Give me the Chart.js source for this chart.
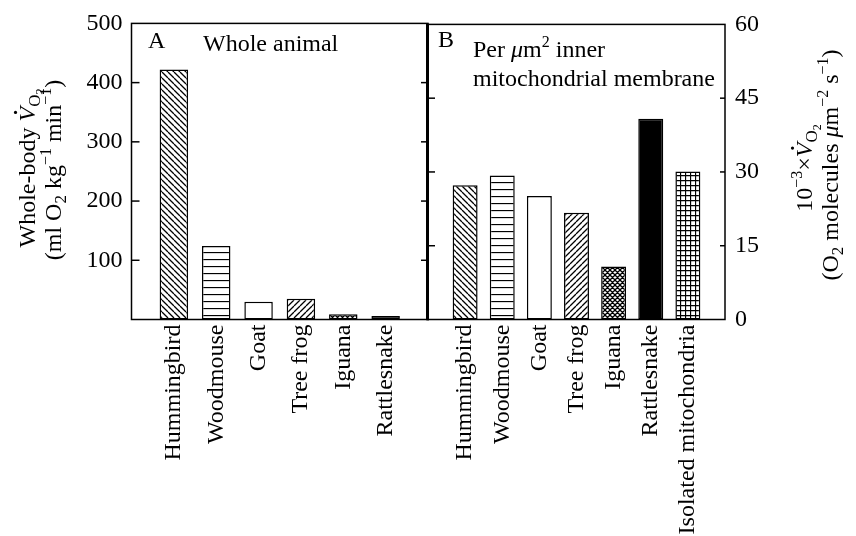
<!DOCTYPE html>
<html>
<head>
<meta charset="utf-8">
<script src="https://cdn.jsdelivr.net/npm/chart.js@4.4.0/dist/chart.umd.min.js"></script>
<style>
  body { margin: 0; background: #fff; }
  canvas { position: absolute; left: 0; top: 0; }
</style>
</head>
<body>
<canvas id="chartA" width="856" height="536"></canvas>
<canvas id="chartB" width="856" height="536"></canvas>
<script>
// values
var animalsA = ['Hummingbird', 'Woodmouse', 'Goat', 'Tree frog', 'Iguana', 'Rattlesnake'];
var wholeBodyVO2 = [422, 124, 30, 35, 9, 6];            // ml O2 kg-1 min-1
var animalsB = ['Hummingbird', 'Woodmouse', 'Goat', 'Tree frog', 'Iguana', 'Rattlesnake', 'Isolated mitochondria'];
var membraneVO2 = [27.3, 29.3, 25.1, 21.7, 10.8, 40.8, 30.1]; // 10^-3 O2 molecules um-2 s-1
var ticksA = [100, 200, 300, 400, 500];
var ticksB = [0, 15, 30, 45, 60];

var SERIF = "'Liberation Serif', 'Times New Roman', serif";

// fill pattern per animal
var hatchOf = {
    'Hummingbird': 'back',
    'Woodmouse': 'horiz',
    'Goat': 'none',
    'Tree frog': 'fwd',
    'Iguana': 'cross',
    'Rattlesnake': 'solid',
    'Isolated mitochondria': 'grid'
};

function hatch(kind) {
    if (kind === 'solid') return '#000';
    if (kind === 'none') return '#fff';
    var s = kind === 'horiz' ? 7 : (kind === 'cross' || kind === 'grid' ? 5 : 6);
    var c = document.createElement('canvas');
    c.width = s; c.height = s;
    var g = c.getContext('2d');
    g.fillStyle = '#fff';
    g.fillRect(0, 0, s, s);
    g.strokeStyle = '#000';
    g.lineWidth = 1.3;
    g.beginPath();
    var k;
    if (kind === 'back' || kind === 'cross') {
        for (k = -s; k <= s; k += s) { g.moveTo(k, 0); g.lineTo(k + s, s); }
    }
    if (kind === 'fwd' || kind === 'cross') {
        for (k = -s; k <= s; k += s) { g.moveTo(k, s); g.lineTo(k + s, 0); }
    }
    if (kind === 'horiz' || kind === 'grid') { g.moveTo(0, 0.5); g.lineTo(s, 0.5); }
    if (kind === 'grid') { g.moveTo(0.5, 0); g.lineTo(0.5, s); }
    g.stroke();
    return g.createPattern(c, 'repeat');
}

// rich text: superscripts, subscripts, italic V with dot
var SIZES = { n: [24, 0], sup: [16, -10], sub: [17, 5], sub2: [12, 9] };
function seg(t, k, it, dot) { return { t: t, k: k || 'n', it: !!it, dot: !!dot }; }

function setFont(ctx, s) {
    ctx.font = (s.it ? 'italic ' : '') + SIZES[s.k][0] + 'px ' + SERIF;
}

function drawRich(ctx, segs, x, y, rot, center) {
    ctx.save();
    ctx.translate(x, y);
    if (rot) ctx.rotate(rot);
    ctx.fillStyle = '#000';
    ctx.textBaseline = 'alphabetic';
    ctx.textAlign = 'left';
    var total = 0;
    segs.forEach(function (s) { setFont(ctx, s); total += ctx.measureText(s.t).width; });
    var cx = center ? -total / 2 : 0;
    segs.forEach(function (s) {
        setFont(ctx, s);
        var w = ctx.measureText(s.t).width;
        var dy = SIZES[s.k][1];
        ctx.fillText(s.t, cx, dy);
        if (s.dot) {
            ctx.beginPath();
            ctx.arc(cx + w * 0.62, dy - 19.5, 1.6, 0, Math.PI * 2);
            ctx.fill();
        }
        cx += w;
    });
    ctx.restore();
}

function line(ctx, x1, y1, x2, y2, w) {
    ctx.beginPath();
    ctx.lineWidth = w;
    ctx.moveTo(x1, y1);
    ctx.lineTo(x2, y2);
    ctx.stroke();
}

var panelA = {
    id: 'panelA',
    afterDraw: function (chart) {
        var ctx = chart.ctx, a = chart.chartArea, y = chart.scales.y;
        ctx.save();
        ctx.strokeStyle = '#000';
        ctx.lineWidth = 1.5;
        ctx.strokeRect(a.left, a.top, a.right - a.left, a.bottom - a.top);
        [100, 200, 300, 400].forEach(function (v) {
            var py = y.getPixelForValue(v);
            line(ctx, a.left, py, a.left + 8, py, 1.5);
            line(ctx, a.right, py, a.right - 7, py, 1.5);
        });
        drawRich(ctx, [seg('A')], 148, 48, 0, false);
        drawRich(ctx, [seg('Whole animal')], 203, 51, 0, false);
        drawRich(ctx, [seg('Whole-body '), seg('V', 'n', true, true), seg('O', 'sub'), seg('2', 'sub2')],
            35, 168, -Math.PI / 2, true);
        drawRich(ctx, [seg('(ml O'), seg('2', 'sub'), seg(' kg'), seg('\u22121', 'sup'), seg(' min'), seg('\u22121', 'sup'), seg(')')],
            61, 170, -Math.PI / 2, true);
        ctx.restore();
    }
};

var panelB = {
    id: 'panelB',
    afterDraw: function (chart) {
        var ctx = chart.ctx, a = chart.chartArea, y = chart.scales.y;
        ctx.save();
        ctx.strokeStyle = '#000';
        ctx.lineWidth = 1.5;
        ctx.strokeRect(a.left, a.top, a.right - a.left, a.bottom - a.top);
        line(ctx, a.left - 0.5, a.top - 0.75, a.left - 0.5, a.bottom + 0.75, 3);
        [15, 30, 45].forEach(function (v) {
            var py = y.getPixelForValue(v);
            line(ctx, a.left, py, a.left + 7, py, 1.5);
            line(ctx, a.right, py, a.right - 5, py, 1.5);
        });
        drawRich(ctx, [seg('B')], 438, 47, 0, false);
        drawRich(ctx, [seg('Per '), seg('\u03bc', 'n', true), seg('m'), seg('2', 'sup'), seg(' inner')], 473, 57, 0, false);
        drawRich(ctx, [seg('mitochondrial membrane')], 473, 86, 0, false);
        drawRich(ctx, [seg('10'), seg('\u22123', 'sup'), seg('\u00d7'), seg('V', 'n', true, true), seg('O', 'sub'), seg('2', 'sub2')],
            812, 168, -Math.PI / 2, true);
        drawRich(ctx, [seg('(O'), seg('2', 'sub'), seg(' molecules '), seg('\u03bc', 'n', true), seg('m'), seg('\u22122', 'sup'),
            seg(' s'), seg('\u22121', 'sup'), seg(')')],
            838, 165, -Math.PI / 2, true);
        ctx.restore();
    }
};

function xAxis(names, max) {
    return {
        type: 'linear',
        min: -1,
        max: max,
        offset: false,
        afterBuildTicks: function (s) { s.ticks = names.map(function (n, i) { return { value: i }; }); },
        afterFit: function (s) { s.height = 216.5; },
        grid: { display: false, drawTicks: false, offset: false },
        border: { display: false },
        ticks: {
            autoSkip: false,
            minRotation: 90,
            maxRotation: 90,
            padding: 5,
            color: '#000',
            font: { family: SERIF, size: 24 },
            callback: function (v) { return names[v]; }
        }
    };
}

function yAxis(pos, max, ticks, width, pad) {
    return {
        position: pos,
        min: 0,
        max: max,
        afterBuildTicks: function (s) { s.ticks = ticks.map(function (v) { return { value: v }; }); },
        afterFit: function (s) { s.width = width; },
        grid: { display: false, drawTicks: false },
        border: { display: false },
        ticks: {
            padding: pad,
            color: '#000',
            font: { family: SERIF, size: 24 },
            callback: function (v) { return String(v); }
        }
    };
}

function barData(names, values) {
    return {
        datasets: [{
            data: values.map(function (v, i) { return { x: i, y: v }; }),
            backgroundColor: names.map(function (n) { return hatch(hatchOf[n]); }),
            borderColor: '#000',
            borderWidth: 1.5,
            borderSkipped: false,
            barPercentage: 0.84,
            categoryPercentage: 0.8
        }]
    };
}

var common = {
    responsive: false,
    animation: false,
    devicePixelRatio: 1,
    plugins: { legend: { display: false }, tooltip: { enabled: false } }
};

new Chart(document.getElementById('chartA').getContext('2d'), {
    type: 'bar',
    data: barData(animalsA, wholeBodyVO2),
    options: Object.assign({}, common, {
        layout: { padding: { left: 0, right: 428, top: 22, bottom: 0 } },
        scales: { x: xAxis(animalsA, 6), y: yAxis('left', 500, ticksA, 131.5, 9) }
    }),
    plugins: [panelA]
});

new Chart(document.getElementById('chartB').getContext('2d'), {
    type: 'bar',
    data: barData(animalsB, membraneVO2),
    options: Object.assign({}, common, {
        layout: { padding: { left: 428, right: 0, top: 22, bottom: 0 } },
        scales: { x: xAxis(animalsB, 7), y: yAxis('right', 60, ticksB, 131, 10) }
    }),
    plugins: [panelB]
});
</script>
</body>
</html>
